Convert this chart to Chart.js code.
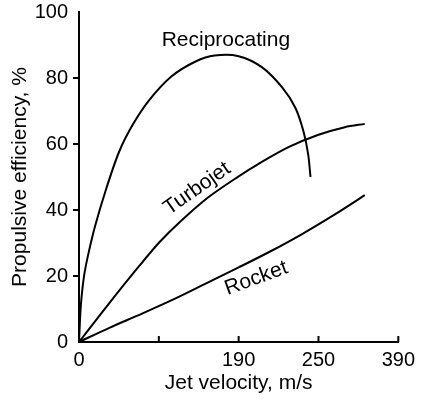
<!DOCTYPE html>
<html>
<head>
<meta charset="utf-8">
<script src="https://cdn.jsdelivr.net/npm/chart.js@4.4.0/dist/chart.umd.min.js"></script>
<style>
html, body { margin: 0; padding: 0; background: #fff; }
</style>
</head>
<body>
<canvas id="chart" width="421" height="402"></canvas>
<script>
// x axis is not linear in the source: equally spaced ticks labelled 0, -, 190, 250, 390
var xTickValues = [0, 100, 200, 300, 400];
var xTickLabels = ['0', '', '190', '250', '390'];

var seriesNames = ['Reciprocating', 'Turbojet', 'Rocket'];

var recipX = [0, 2, 4, 7, 12, 20, 33.5, 50, 66.5, 87, 116, 146, 170, 200, 229, 254, 271, 281, 287, 290];
var recipY = [0, 10, 15.5, 21, 27, 35, 46, 57.5, 65.5, 73, 80.5, 85, 86.8, 86.6, 83.3, 77.3, 71, 64, 57, 50];

var turboX = [0, 37, 76, 101, 126, 160, 200, 225, 263, 300, 333, 358];
var turboY = [0, 11.5, 23.2, 30.3, 36.3, 43.5, 50.2, 54, 59.1, 62.8, 65.1, 66.1];

var rocketX = [0, 38, 79, 121, 158, 200, 240, 280, 320, 358];
var rocketY = [0, 4.3, 8.6, 13.2, 17.6, 22.6, 27.5, 32.8, 38.6, 44.5];

var FONT = '"Liberation Sans", Arial, sans-serif';

function toPoints(xs, ys) {
    var pts = [];
    for (var i = 0; i < xs.length; i++) {
        pts.push({ x: xs[i], y: ys[i] });
    }
    return pts;
}

function lineSet(name, xs, ys) {
    return {
        label: name,
        data: toPoints(xs, ys),
        borderColor: '#000',
        borderWidth: 2,
        pointRadius: 0,
        fill: false,
        tension: 0.3
    };
}

// tick marks (x ticks point up into the plot) and the curve names
var extras = {
    id: 'extras',
    afterDraw: function (chart) {
        var ctx = chart.ctx;
        var xs = chart.scales.x, ys = chart.scales.y;
        var area = chart.chartArea;
        ctx.save();
        ctx.strokeStyle = '#000';
        ctx.lineWidth = 2;
        [100, 200, 300, 400].forEach(function (v) {
            var px = xs.getPixelForValue(v);
            ctx.beginPath();
            ctx.moveTo(px, area.bottom);
            ctx.lineTo(px, area.bottom - 6);
            ctx.stroke();
        });
        [20, 40, 60, 80].forEach(function (v) {
            var py = ys.getPixelForValue(v);
            ctx.beginPath();
            ctx.moveTo(area.left - 6, py);
            ctx.lineTo(area.left, py);
            ctx.stroke();
        });

        ctx.fillStyle = '#000';
        ctx.font = '21px ' + FONT;
        ctx.textAlign = 'center';
        ctx.textBaseline = 'middle';
        var labelPos = [[184, 91.5, 0], [148, 46.5, -35], [222, 19.3, -20]];
        for (var i = 0; i < seriesNames.length; i++) {
            ctx.save();
            ctx.translate(xs.getPixelForValue(labelPos[i][0]), ys.getPixelForValue(labelPos[i][1]));
            ctx.rotate(labelPos[i][2] * Math.PI / 180);
            ctx.fillText(seriesNames[i], 0, 0);
            ctx.restore();
        }
        ctx.restore();
    }
};

var ctx = document.getElementById('chart').getContext('2d');
window.myChart = new Chart(ctx, {
    type: 'line',
    data: {
        datasets: [
            lineSet(seriesNames[0], recipX, recipY),
            lineSet(seriesNames[1], turboX, turboY),
            lineSet(seriesNames[2], rocketX, rocketY)
        ]
    },
    options: {
        responsive: false,
        animation: false,
        layout: { padding: { top: 12, right: 20, left: 0, bottom: 0 } },
        plugins: { legend: { display: false }, tooltip: { enabled: false } },
        scales: {
            x: {
                type: 'linear',
                min: 0,
                max: 400,
                afterBuildTicks: function (scale) {
                    scale.ticks = xTickValues.map(function (v) { return { value: v }; });
                },
                afterFit: function (scale) { scale.height = 60; },
                grid: { display: false, drawTicks: false },
                border: { display: true, color: '#000', width: 2 },
                ticks: {
                    color: '#000',
                    font: { family: FONT, size: 20 },
                    padding: 6,
                    maxRotation: 0,
                    autoSkip: false,
                    callback: function (v) {
                        return xTickLabels[xTickValues.indexOf(v)];
                    }
                },
                title: {
                    display: true,
                    text: 'Jet velocity, m/s',
                    color: '#000',
                    font: { family: FONT, size: 21 },
                    padding: { top: 0, bottom: 6 }
                }
            },
            y: {
                min: 0,
                max: 100,
                afterFit: function (scale) {
                    scale.width = 79;
                    scale.paddingTop = 0;
                },
                grid: { display: false, drawTicks: false },
                border: { display: true, color: '#000', width: 2 },
                ticks: {
                    stepSize: 20,
                    color: '#000',
                    font: { family: FONT, size: 20 },
                    padding: 11
                },
                title: {
                    display: true,
                    text: 'Propulsive efficiency, %',
                    color: '#000',
                    font: { family: FONT, size: 21 },
                    padding: { top: 8, bottom: 0 }
                }
            }
        }
    },
    plugins: [extras]
});
</script>
</body>
</html>
